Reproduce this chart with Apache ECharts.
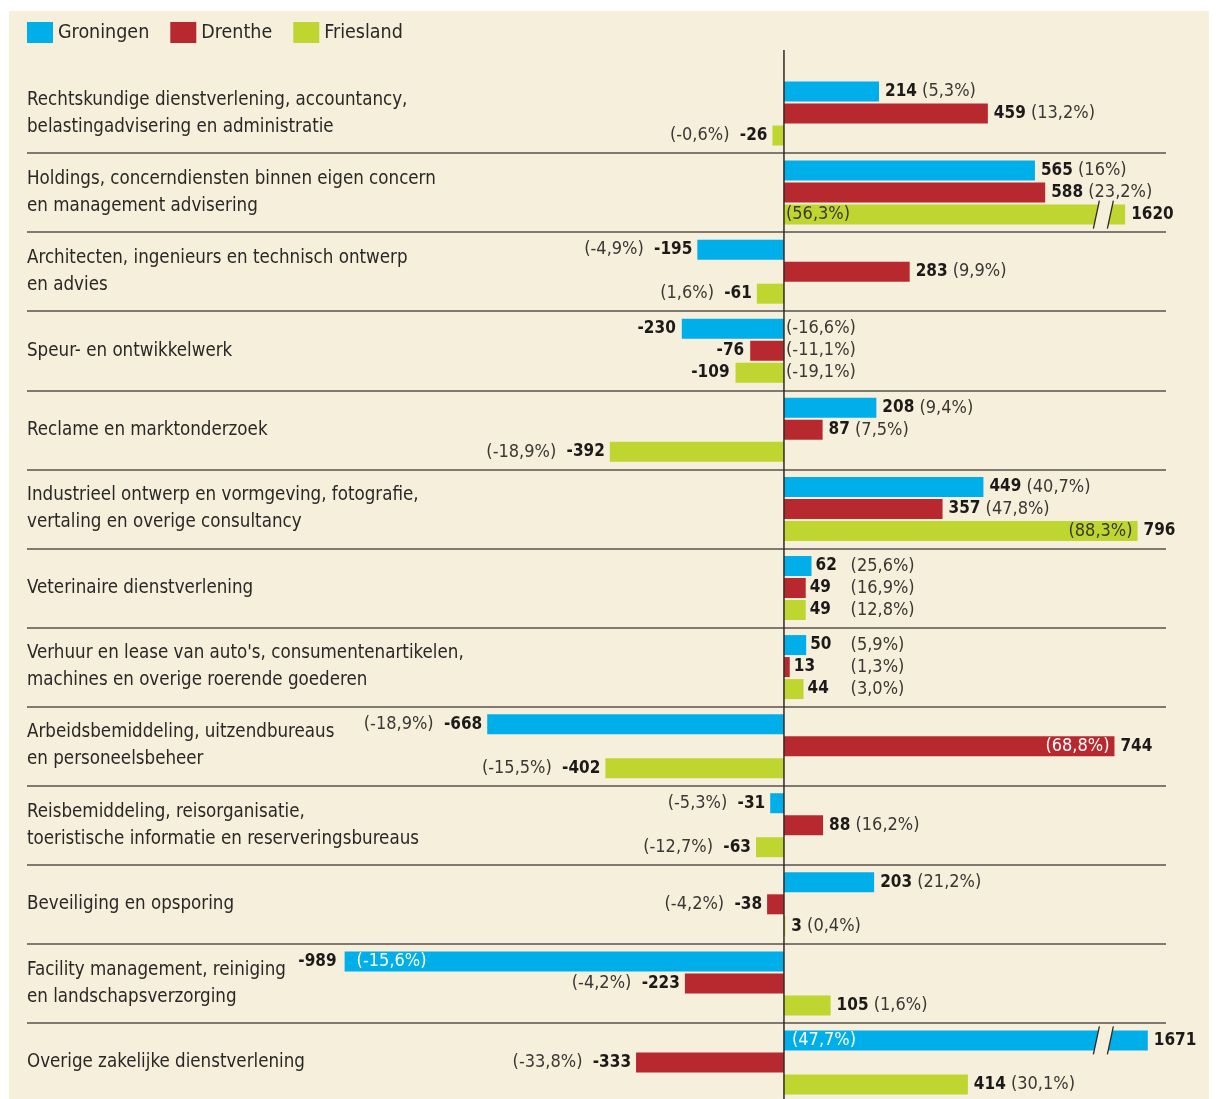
<!DOCTYPE html>
<html><head><meta charset="utf-8">
<script src="https://cdn.jsdelivr.net/npm/echarts@6/dist/echarts.min.js"></script>
<style>
html,body{margin:0;padding:0;background:#fff;}
#wrap{position:relative;width:1216px;height:1099px;overflow:hidden;}
#bg{position:absolute;left:9px;top:11px;width:1200px;height:1088px;background:#f6efdc;}
#chart{position:absolute;left:0;top:0;width:1216px;height:1099px;}
</style></head><body>
<div id="wrap"><div id="bg"></div><div id="chart"></div></div>
<script>
const categories = [
  "Rechtskundige dienstverlening, accountancy,\nbelastingadvisering en administratie",
  "Holdings, concerndiensten binnen eigen concern\nen management advisering",
  "Architecten, ingenieurs en technisch ontwerp\nen advies",
  "Speur- en ontwikkelwerk",
  "Reclame en marktonderzoek",
  "Industrieel ontwerp en vormgeving, fotografie,\nvertaling en overige consultancy",
  "Veterinaire dienstverlening",
  "Verhuur en lease van auto's, consumentenartikelen,\nmachines en overige roerende goederen",
  "Arbeidsbemiddeling, uitzendbureaus\nen personeelsbeheer",
  "Reisbemiddeling, reisorganisatie,\ntoeristische informatie en reserveringsbureaus",
  "Beveiliging en opsporing",
  "Facility management, reiniging\nen landschapsverzorging",
  "Overige zakelijke dienstverlening"
];
const seriesNames = ["Groningen", "Drenthe", "Friesland"];
const groningen    = [214, 565, -195, -230, 208, 449, 62, 50, -668, -31, 203, -989, 1671];
const groningenPct = ["5,3%", "16%", "-4,9%", "-16,6%", "9,4%", "40,7%", "25,6%", "5,9%", "-18,9%", "-5,3%", "21,2%", "-15,6%", "47,7%"];
const drenthe      = [459, 588, 283, -76, 87, 357, 49, 13, 744, 88, -38, -223, -333];
const drenthePct   = ["13,2%", "23,2%", "9,9%", "-11,1%", "7,5%", "47,8%", "16,9%", "1,3%", "68,8%", "16,2%", "-4,2%", "-4,2%", "-33,8%"];
const friesland    = [-26, 1620, -61, -109, -392, 796, 49, 44, -402, -63, 3, 105, 414];
const frieslandPct = ["-0,6%", "56,3%", "1,6%", "-19,1%", "-18,9%", "88,3%", "12,8%", "3,0%", "-15,5%", "-12,7%", "0,4%", "1,6%", "30,1%"];

// broken bars: values above BREAK_FROM are drawn shortened by BREAK_GAP
const BREAK_FROM = 1000, BREAK_GAP = 852, BREAK_MARK = 719;
function disp(v) { return v > BREAK_FROM ? v - BREAK_GAP : v; }

const COLORS = ["#00aee9", "#b8292f", "#bed62f"];
const BG = "#f6efdc";
const FONT = "'DejaVu Sans Condensed', 'DejaVu Sans', sans-serif";

const allValues = [groningen, drenthe, friesland];
const allPct = [groningenPct, drenthePct, frieslandPct];

// label placement exceptions, key "category-series"
const labelMode = {
  "1-2": "inStart", "3-0": "splitZero", "3-1": "splitZero", "3-2": "splitZero",
  "5-2": "inEnd", "6-0": "col", "6-1": "col", "6-2": "col",
  "7-0": "col", "7-1": "col", "7-2": "col", "8-1": "inEnd",
  "11-0": "inFar", "12-0": "inStart"
};

const labelItems = [];
allValues.forEach((arr, s) => arr.forEach((v, i) => {
  labelItems.push({ s: s, cat: i, v: v, pct: allPct[s][i] });
}));

const RICH = {
  v: { fontFamily: FONT, fontSize: 17, fontWeight: "bold", fill: "#1b1a18" },
  p: { fontFamily: FONT, fontSize: 18, fill: "#3a3835" }
};

function renderLabel(params, api) {
  const it = labelItems[params.dataIndex];
  const c0 = api.coord([0, it.cat]);
  const yc = c0[1] + (it.s - 1) * 22;
  const x0 = c0[0];
  const x1 = api.coord([disp(it.v), it.cat])[0];
  const mode = labelMode[it.cat + "-" + it.s] || "out";
  const vStr = String(it.v);
  const pStr = "(" + it.pct + ")";
  const inColor = it.s === 2 ? "#3a3835" : "#ffffff";
  const ch = [];
  function t(text, x, align, fill) {
    const st = { text: text, rich: RICH, fontFamily: FONT, fontSize: 18, align: align, verticalAlign: "middle" };
    if (fill) st.fill = fill;
    ch.push({ type: "text", x: x, y: yc, style: st, z2: 20 });
  }
  const pos = it.v >= 0;
  if (mode === "out") {
    if (pos) t("{v|" + vStr + "} {p|" + pStr + "}", x1 + 6, "left");
    else t("{p|" + pStr + "}  {v|" + vStr + "}", x1 - 5, "right");
  } else if (mode === "splitZero") {
    t("{v|" + vStr + "}", x1 - 6, "right");
    t("{p|" + pStr + "}", x0 + 2, "left");
  } else if (mode === "inStart") {
    t("{v|" + vStr + "}", x1 + 6, "left");
    t(pStr, x0 + (it.s === 2 ? 2 : 8), "left", inColor);
  } else if (mode === "inEnd") {
    t("{v|" + vStr + "}", x1 + 6, "left");
    t(pStr, x1 - 5, "right", inColor);
  } else if (mode === "inFar") {
    t("{v|" + vStr + "}", x1 - 8, "right");
    t(pStr, x1 + 12, "left", inColor);
  } else if (mode === "col") {
    t("{v|" + vStr + "}", x1 + 4, "left");
    t("{p|" + pStr + "}", api.coord([150, it.cat])[0], "left");
  }
  if (it.v > BREAK_FROM) {
    const xc = api.coord([BREAK_MARK, it.cat])[0];
    const yt = yc - 14, yb = yc + 14;
    ch.push({ type: "polygon", shape: { points: [[xc - 10, yb], [xc - 4, yt], [xc + 10, yt], [xc + 4, yb]] },
      style: { fill: BG }, z2: 10 });
    ch.push({ type: "line", shape: { x1: xc - 10, y1: yb, x2: xc - 4, y2: yt }, style: { stroke: "#2d2a26", lineWidth: 1.3 }, z2: 11 });
    ch.push({ type: "line", shape: { x1: xc + 4, y1: yb, x2: xc + 10, y2: yt }, style: { stroke: "#2d2a26", lineWidth: 1.3 }, z2: 11 });
  }
  return { type: "group", children: ch };
}

const chart = echarts.init(document.getElementById("chart"), null, { renderer: "canvas" });
const barSeries = allValues.map((arr, s) => ({
  name: seriesNames[s],
  type: "bar",
  data: arr.map(disp),
  barWidth: 20,
  barGap: "10%",
  itemStyle: { color: COLORS[s] },
  emphasis: { disabled: true },
  z: 2
}));
chart.setOption({
  animation: false,
  backgroundColor: "transparent",
  textStyle: { fontFamily: FONT },
  legend: {
    data: seriesNames, left: 27, top: 22, padding: 0, icon: "rect",
    itemWidth: 26, itemHeight: 21, itemGap: 21,
    textStyle: { fontFamily: FONT, fontSize: 19.5, color: "#2a2826" },
    selectedMode: false
  },
  grid: { left: 27, right: 50, top: 74, height: 1028, containLabel: false, outerBoundsMode: "none" },
  xAxis: { type: "value", min: -1704, max: 860, show: false, splitLine: { show: false } },
  yAxis: {
    type: "category", data: categories, inverse: true,
    axisLine: { show: false, onZero: false }, axisTick: { show: false },
    splitLine: { show: true, showMinLine: false, showMaxLine: false, lineStyle: { color: "#57524b", width: 1.6 } },
    axisLabel: { inside: true, margin: 0, fontFamily: FONT, fontSize: 18.6, lineHeight: 27,
      color: "#2a2826", align: "left", verticalAlign: "middle", padding: [0, 0, 9, 0] }
  },
  tooltip: { show: false },
  series: barSeries.concat([{
    type: "custom", name: "labels", renderItem: renderLabel, clip: false, z: 5, silent: true,
    encode: { x: 0, y: 1 },
    data: labelItems.map(it => [disp(it.v), it.cat])
  }])
});
const zx = chart.convertToPixel({ xAxisIndex: 0 }, 0);
chart.setOption({ graphic: [{ type: "line", z: 10, silent: true,
  shape: { x1: zx, y1: 50, x2: zx, y2: 1099 }, style: { stroke: "#2d2a26", lineWidth: 1.5 } }] });
</script>
</body></html>
